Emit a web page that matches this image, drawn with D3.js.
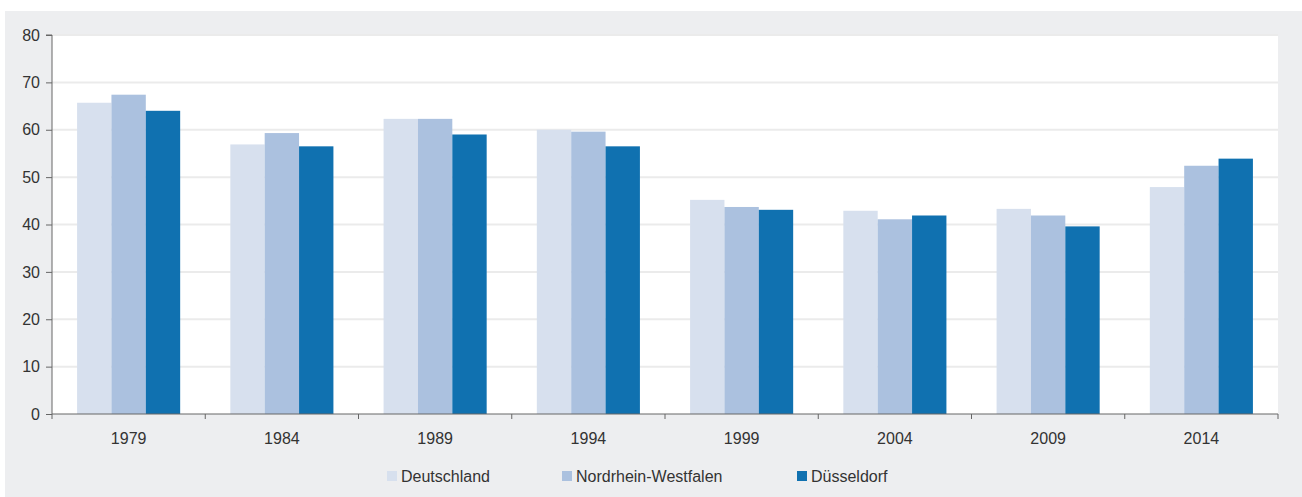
<!DOCTYPE html>
<html>
<head>
<meta charset="utf-8">
<script src="https://cdn.jsdelivr.net/npm/d3@7"></script>
<style>
  body { margin: 0; background: #fff; }
  svg { display: block; font-family: "Liberation Sans", Arial, sans-serif; }
</style>
</head>
<body>
<div id="chart"></div>
<script>
// data
let years = ['1979', '1984', '1989', '1994', '1999', '2004', '2009', '2014']
let seriesNames = ['Deutschland', 'Nordrhein-Westfalen', 'Düsseldorf']
let deutschland = [65.7, 56.9, 62.3, 60.0, 45.2, 42.9, 43.3, 47.9]
let nrw = [67.4, 59.3, 62.3, 59.6, 43.7, 41.1, 41.9, 52.4]
let duesseldorf = [64.0, 56.5, 59.0, 56.5, 43.1, 41.9, 39.6, 53.9]
let yTicks = [0, 10, 20, 30, 40, 50, 60, 70, 80]
let colors = ['#d7e0ee', '#abc1df', '#1071b0']

let values = [deutschland, nrw, duesseldorf]

let W = 1302, H = 497
let margin = {top: 35, right: 24, bottom: 83, left: 52}
let width = W - margin.left - margin.right,
  height = 414 - margin.top

let svg = d3.select('#chart').append('svg')
  .attr('width', W)
  .attr('height', H)

// grey panel
svg.append('rect')
  .attr('x', 5).attr('y', 11)
  .attr('width', W - 5).attr('height', H - 11)
  .attr('fill', '#edeef0')

let g = svg.append('g')
  .attr('transform', `translate(${margin.left},${margin.top})`)

g.append('rect')
  .attr('width', width).attr('height', height)
  .attr('fill', '#fff')

let x = d3.scaleBand()
  .domain(years)
  .range([0, width])

let x1 = d3.scaleBand()
  .domain(d3.range(seriesNames.length))
  .range([0, x.bandwidth()])
  .paddingInner(0)
  .paddingOuter(0.73)

let y = d3.scaleLinear()
  .domain([0, 80])
  .range([height, 0])

// gridlines
g.selectAll('.grid')
  .data(yTicks.filter(d => d > 0))
  .enter().append('line')
  .attr('class', 'grid')
  .attr('x1', 0).attr('x2', width)
  .attr('y1', d => y(d)).attr('y2', d => y(d))
  .attr('stroke', '#ebebeb')
  .attr('stroke-width', 2)

// bars
let groups = g.selectAll('.year')
  .data(years)
  .enter().append('g')
  .attr('class', 'year')
  .attr('transform', d => `translate(${x(d)},0)`)

groups.selectAll('rect')
  .data((d, i) => values.map((s, k) => ({k: k, v: s[i]})))
  .enter().append('rect')
  .attr('x', d => x1(d.k))
  .attr('width', x1.bandwidth())
  .attr('y', d => y(d.v))
  .attr('height', d => height - y(d.v))
  .attr('fill', d => colors[d.k])

// y axis
let yAxis = d3.axisLeft(y)
  .tickValues(yTicks)
  .tickSize(6)
  .tickPadding(6)

let ya = g.append('g').call(yAxis)
ya.select('.domain').attr('stroke', '#666').attr('d', `M-6,0H0V${height + 5}`)
ya.selectAll('.tick line').attr('stroke', '#666')
ya.selectAll('.tick text').attr('fill', '#333').style('font-size', '16px')

// x axis
let xa = g.append('g')
  .attr('transform', `translate(0,${height})`)

xa.append('line')
  .attr('x1', 0).attr('x2', width)
  .attr('stroke', '#666')

xa.selectAll('.xtick')
  .data(years.slice(1).concat(['end']))
  .enter().append('line')
  .attr('x1', d => d === 'end' ? width : x(d))
  .attr('x2', d => d === 'end' ? width : x(d))
  .attr('y1', 0).attr('y2', 5)
  .attr('stroke', '#666')

xa.selectAll('.xlabel')
  .data(years)
  .enter().append('text')
  .attr('x', d => x(d) + x.bandwidth() / 2)
  .attr('y', 30)
  .attr('text-anchor', 'middle')
  .attr('fill', '#333')
  .style('font-size', '16px')
  .text(d => d)

// legend
let legendX = [387, 562, 797]
let legend = svg.selectAll('.legend')
  .data(seriesNames)
  .enter().append('g')
  .attr('transform', (d, i) => `translate(${legendX[i]},471)`)

legend.append('rect')
  .attr('width', 10).attr('height', 10)
  .attr('fill', (d, i) => colors[i])

legend.append('text')
  .attr('x', 14).attr('y', 11)
  .attr('fill', '#333')
  .style('font-size', '16px')
  .text(d => d)
</script>
</body>
</html>
